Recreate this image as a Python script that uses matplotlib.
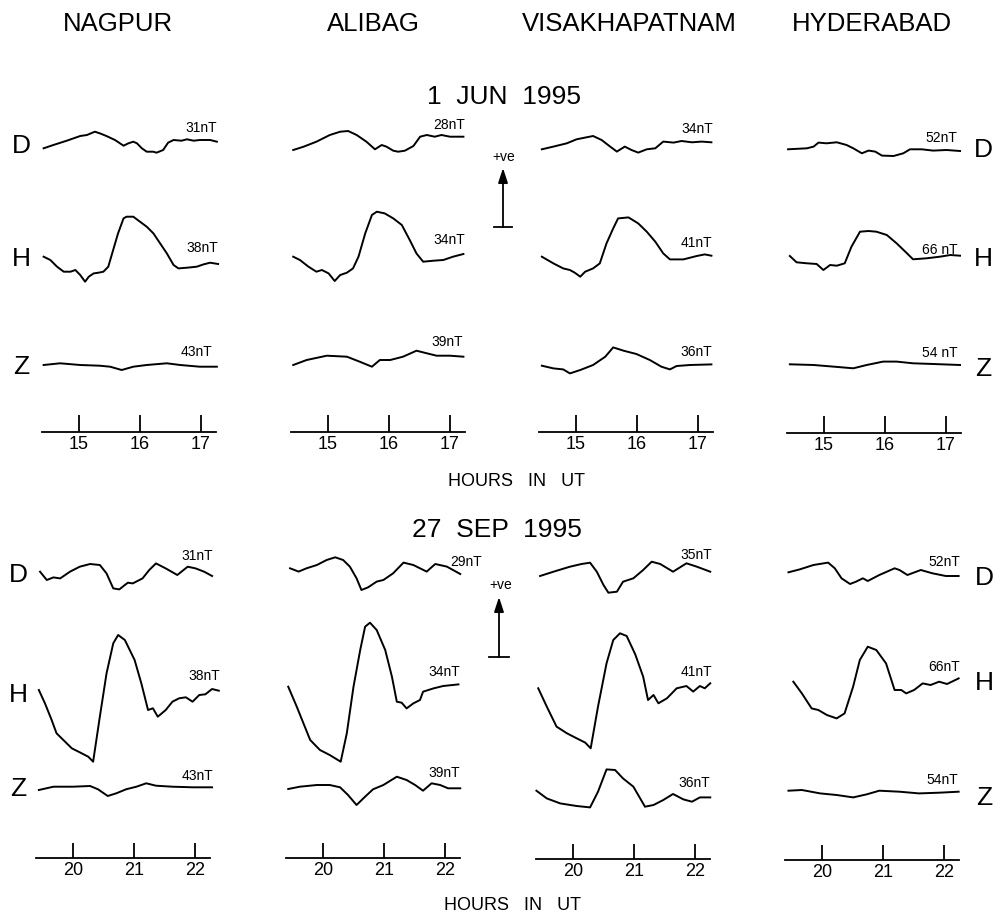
import matplotlib
matplotlib.use("Agg")
import matplotlib.pyplot as plt

plt.rcParams['font.family'] = ['Liberation Sans', 'DejaVu Sans']

# ---------------- DATA (time in hours UT, deflection in plot units) ----------------
STATIONS = ["NAGPUR", "ALIBAG", "VISAKHAPATNAM", "HYDERABAD"]
COMPONENTS = ["D", "H", "Z"]
EVENTS = ["1  JUN  1995", "27  SEP  1995"]
JUN_TICKS = [15, 16, 17]
SEP_TICKS = [20, 21, 22]

JUN_SCALES = {"NAGPUR": ["31nT", "38nT", "43nT"], "ALIBAG": ["28nT", "34nT", "39nT"],
              "VISAKHAPATNAM": ["34nT", "41nT", "36nT"], "HYDERABAD": ["52nT", "66 nT", "54 nT"]}
SEP_SCALES = {"NAGPUR": ["31nT", "38nT", "43nT"], "ALIBAG": ["29nT", "34nT", "39nT"],
              "VISAKHAPATNAM": ["35nT", "41nT", "36nT"], "HYDERABAD": ["52nT", "66nT", "54nT"]}

# --- 1 JUN 1995 ---
jun_nag_D_t = [14.42,14.58,14.80,15.02,15.13,15.26,15.34,15.45,15.59,15.73,15.81,15.89,15.95,16.03,16.11,16.22,16.27,16.38,16.46,16.55,16.68,16.77,16.88,16.98,17.15,17.26]
jun_nag_D_v = [-0.3,3,7.3,12,13,16.3,14.7,12,8,2.3,4.7,6.3,4.7,-0.3,-3.7,-3.7,-4.7,-2,5.3,8,7.3,8.7,7.3,8,8,6.3]
jun_nag_H_t = [14.42,14.53,14.64,14.75,14.86,14.94,15.02,15.10,15.16,15.24,15.32,15.40,15.48,15.56,15.64,15.73,15.78,15.89,16.00,16.11,16.22,16.33,16.44,16.55,16.63,16.77,16.93,17.04,17.15,17.28]
jun_nag_H_v = [0,-3.3,-10,-15,-15,-13.3,-18.3,-25,-20,-16.7,-16,-15,-10,6.7,23.3,38.3,40,40,35,30,23.3,13.3,3.3,-8.3,-11.7,-11,-10,-7.7,-6,-7.3]
jun_nag_Z_t = [14.42,14.69,15.02,15.34,15.51,15.70,15.89,16.11,16.44,16.66,16.98,17.26]
jun_nag_Z_v = [0,1.7,0,-0.7,-1.7,-5,-1.7,0,1.7,0,-1.7,-1.7]

jun_ali_D_t = [14.43,14.60,14.81,15.03,15.20,15.33,15.47,15.63,15.77,15.88,15.96,16.07,16.15,16.26,16.40,16.51,16.62,16.75,16.86,17.00,17.22]
jun_ali_D_v = [0,3.3,8.3,15,18.3,19,15,8.3,0.7,5,3.3,-0.7,-1.7,-0.7,4,13.3,15,13.3,15,13.3,13.3]
jun_ali_H_t = [14.43,14.54,14.68,14.81,14.90,15.01,15.11,15.20,15.31,15.41,15.50,15.61,15.72,15.80,15.93,16.07,16.21,16.34,16.45,16.56,16.73,16.89,17.05,17.22]
jun_ali_H_v = [0,-3.3,-10,-15,-13.3,-16.7,-24.3,-18.3,-16,-11.7,0,23.3,41.7,45,43.3,38.3,31.7,16.7,3.3,-5,-4,-3.3,0,2.7]
jun_ali_Z_t = [14.43,14.65,14.98,15.31,15.52,15.72,15.85,16.02,16.23,16.45,16.62,16.78,17.00,17.22]
jun_ali_Z_v = [0,5,9.3,8.3,3.3,-1.7,5,5,8.3,14.3,11.7,9.3,9.3,8.3]

jun_vis_D_t = [14.44,14.63,14.85,15.01,15.28,15.42,15.56,15.67,15.80,15.91,16.02,16.16,16.30,16.43,16.60,16.73,16.90,17.06,17.22]
jun_vis_D_v = [0,2.7,6,10,13.3,9.3,2.7,-2.3,2.7,-0.7,-3.3,0,1,7.7,6.7,8.3,7,7.7,7]
jun_vis_H_t = [14.44,14.63,14.79,14.90,14.98,15.07,15.15,15.28,15.39,15.50,15.61,15.69,15.86,16.02,16.16,16.30,16.43,16.54,16.76,16.98,17.11,17.22]
jun_vis_H_v = [0,-6.7,-11.7,-13.3,-16,-20,-15,-11.7,-6.7,13.3,28.3,38.3,39.3,33.3,25,15,3.3,-2.7,-2.7,0.7,2.3,1]
jun_vis_Z_t = [14.44,14.63,14.79,14.90,15.07,15.28,15.48,15.61,15.78,15.99,16.21,16.40,16.54,16.65,16.87,17.22]
jun_vis_Z_v = [0,-2.7,-3.7,-7.7,-4.3,0.7,9,18.3,15,11.7,5.7,-1,-3.7,-0.3,0.7,1.3]

jun_hyd_D_t = [14.41,14.72,14.83,14.91,15.04,15.21,15.37,15.48,15.62,15.73,15.84,15.95,16.14,16.30,16.41,16.60,16.79,17.01,17.23]
jun_hyd_D_v = [0,1,2.7,6.7,6,7,4.3,1,-4,-1.3,-2.3,-6.3,-6.7,-4,0,0,-1.3,-0.7,-1.7]
jun_hyd_H_t = [14.44,14.55,14.72,14.88,14.99,15.10,15.21,15.34,15.45,15.59,15.73,15.86,16.03,16.19,16.36,16.46,16.68,16.90,17.07,17.23]
jun_hyd_H_v = [0,-6.3,-7.3,-8,-14,-9,-9.7,-7.3,9.3,24.3,25,24.3,21,12.7,2.7,-3.3,-2.3,-0.7,1,0.3]
jun_hyd_Z_t = [14.44,14.83,15.15,15.48,15.70,15.97,16.19,16.46,16.79,17.23]
jun_hyd_Z_v = [0,-0.7,-2.3,-4,-0.7,2.7,2.7,1,0.3,-0.7]

# --- 27 SEP 1995 ---
sep_nag_D_t = [19.46,19.57,19.68,19.79,19.95,20.11,20.28,20.44,20.55,20.66,20.76,20.85,20.90,20.98,21.14,21.25,21.36,21.52,21.71,21.88,22.01,22.15,22.28]
sep_nag_D_v = [0,-8.3,-5.7,-6.7,0,5,7.7,6.7,-1.7,-16.7,-17.7,-13.3,-11,-11.7,-6.7,1.7,8.3,3.3,-3.3,5,3.3,0,-4.3]
sep_nag_H_t = [19.44,19.54,19.65,19.73,19.87,19.98,20.11,20.25,20.33,20.44,20.55,20.66,20.74,20.85,21.01,21.12,21.23,21.31,21.39,21.52,21.63,21.74,21.85,21.96,22.07,22.17,22.28,22.39]
sep_nag_H_v = [0,-13.3,-30,-43.3,-51.7,-58.3,-62.3,-66.7,-71.7,-26.7,16.7,46.7,55,50,30,6.7,-20,-18.3,-26.7,-20,-11.7,-8.3,-7.3,-11.7,-5,-4.3,1,-0.7]
sep_nag_Z_t = [19.44,19.68,20.00,20.28,20.41,20.57,20.71,20.87,21.04,21.20,21.36,21.63,21.96,22.28]
sep_nag_Z_v = [0,3.3,3.3,4,0.7,-6,-3.3,0.7,3.3,6.7,4.3,3.3,2.7,2.7]

sep_ali_D_t = [19.46,19.60,19.73,19.90,20.06,20.20,20.33,20.44,20.55,20.63,20.74,20.88,20.99,21.15,21.32,21.48,21.70,21.84,22.03,22.25]
sep_ali_D_v = [0,-3.3,0,3.3,8.3,11,8.3,1.7,-10,-21.7,-19,-13.3,-11.7,-5,5.7,3.3,-3.3,4.3,1.7,-5.7]
sep_ali_H_t = [19.43,19.57,19.68,19.79,19.95,20.11,20.29,20.39,20.50,20.61,20.69,20.77,20.88,21.02,21.13,21.21,21.29,21.37,21.48,21.59,21.64,21.81,21.97,22.22]
sep_ali_H_v = [0,-20,-36.7,-53.3,-63.3,-68.3,-75,-46.7,0,36.7,60,64,56.7,36.7,10,-15,-16,-21.7,-16.7,-13.3,-5,-1.7,0.7,2.3]
sep_ali_Z_t = [19.43,19.62,19.90,20.11,20.28,20.41,20.55,20.69,20.82,20.99,21.21,21.37,21.51,21.64,21.78,21.92,22.05,22.25]
sep_ali_Z_v = [0,2.3,4,4,1.7,-6,-16,-7.7,-0.3,4,12.3,9,4,-1.7,5.7,4,0.7,0.7]

sep_vis_D_t = [19.46,19.68,19.95,20.14,20.28,20.39,20.50,20.58,20.72,20.82,20.99,21.15,21.29,21.43,21.64,21.86,22.03,22.25]
sep_vis_D_v = [0,4.3,9.3,12,13.3,4.3,-9,-16.7,-15.7,-5.7,-2.3,6,14.3,12,4.3,12.7,9.3,4.3]
sep_vis_H_t = [19.43,19.57,19.73,19.90,20.06,20.20,20.29,20.41,20.55,20.66,20.77,20.88,21.02,21.15,21.23,21.32,21.40,21.54,21.70,21.86,21.97,22.08,22.16,22.25]
sep_vis_H_v = [0,-18.3,-38.3,-45,-50,-54.3,-60,-18.3,25,48.3,55,52.3,34,11.7,-11.7,-6.7,-15,-10,0,2.3,-3.3,2.3,0,5]
sep_vis_Z_t = [19.40,19.57,19.79,20.06,20.28,20.41,20.55,20.69,20.82,20.99,21.18,21.32,21.48,21.64,21.81,21.95,22.08,22.25]
sep_vis_Z_v = [0,-7.7,-12.7,-15.3,-16.7,-1,21.3,20.7,12.3,4,-16,-14.3,-9.3,-3.3,-8.7,-11,-6.7,-6.7]

sep_hyd_D_t = [19.45,19.64,19.86,20.10,20.21,20.32,20.46,20.56,20.67,20.75,20.94,21.19,21.27,21.40,21.62,21.81,22.03,22.24]
sep_hyd_D_v = [0,3,7.3,9.7,4,-6,-11.7,-9.3,-6,-8.7,-2.7,4,2.3,-2.7,2.3,-1,-3.7,-3.7]
sep_hyd_H_t = [19.53,19.67,19.83,19.94,20.08,20.24,20.37,20.51,20.62,20.75,20.89,21.05,21.19,21.30,21.38,21.51,21.65,21.78,21.92,22.05,22.24]
sep_hyd_H_v = [0,-11.7,-26.7,-28.3,-33.3,-36.7,-31.7,-5,21.7,35,31.7,18.3,-8.3,-8.3,-11.7,-8.3,-1.7,-3.3,0,-2.3,3.3]
sep_hyd_Z_t = [19.45,19.67,19.97,20.24,20.51,20.73,20.94,21.27,21.59,21.92,22.24]
sep_hyd_Z_v = [0,0.7,-2.7,-4.3,-6.7,-3.7,0,-1,-2.7,-2,-1]

TRACES = {
    0: {"NAGPUR": [(jun_nag_D_t, jun_nag_D_v), (jun_nag_H_t, jun_nag_H_v), (jun_nag_Z_t, jun_nag_Z_v)],
        "ALIBAG": [(jun_ali_D_t, jun_ali_D_v), (jun_ali_H_t, jun_ali_H_v), (jun_ali_Z_t, jun_ali_Z_v)],
        "VISAKHAPATNAM": [(jun_vis_D_t, jun_vis_D_v), (jun_vis_H_t, jun_vis_H_v), (jun_vis_Z_t, jun_vis_Z_v)],
        "HYDERABAD": [(jun_hyd_D_t, jun_hyd_D_v), (jun_hyd_H_t, jun_hyd_H_v), (jun_hyd_Z_t, jun_hyd_Z_v)]},
    1: {"NAGPUR": [(sep_nag_D_t, sep_nag_D_v), (sep_nag_H_t, sep_nag_H_v), (sep_nag_Z_t, sep_nag_Z_v)],
        "ALIBAG": [(sep_ali_D_t, sep_ali_D_v), (sep_ali_H_t, sep_ali_H_v), (sep_ali_Z_t, sep_ali_Z_v)],
        "VISAKHAPATNAM": [(sep_vis_D_t, sep_vis_D_v), (sep_vis_H_t, sep_vis_H_v), (sep_vis_Z_t, sep_vis_Z_v)],
        "HYDERABAD": [(sep_hyd_D_t, sep_hyd_D_v), (sep_hyd_H_t, sep_hyd_H_v), (sep_hyd_Z_t, sep_hyd_Z_v)]},
}

# ---------------- LAYOUT (pixel positions on a 1000 x 919 canvas) ----------------
W, H = 1000, 919
PX_PER_HOUR = 61.0
EV = [
    dict(ticks=JUN_TICKS, scales=JUN_SCALES, xlim=(14.39, 17.24),
         tick0_x=[79, 328, 576, 824], axis_y=[432, 432, 432, 433], top=105,
         base=[[284, 175.3, 67], [282, 175.3, 67], [282.7, 175.3, 66.3], [283.7, 177, 68.7]],
         lab_xy=[[(217, 128), (218, 248), (212, 352)], [(465, 125), (465, 240), (463, 342)],
                 [(713, 129), (712, 243), (712, 352)], [(957, 138), (958, 250), (958, 353)]],
         left_letters=[146, 259, 367], right_letters=[150, 259, 369], left_x=21, right_x=983,
         date_xy=(504, 97), hours_xy=(516, 482), tick_len=12,
         vebar=dict(x=503, y0=227, y1=168, half=9, txt=(504, 157))),
    dict(ticks=SEP_TICKS, scales=SEP_SCALES, xlim=(19.39, 22.25),
         tick0_x=[73, 323, 573, 822], axis_y=[858, 858, 859, 860], top=540,
         base=[[286.3, 168, 68], [289.7, 171.3, 69], [283, 170.7, 68.3], [287.7, 178.3, 69.3]],
         lab_xy=[[(213, 556), (220, 676), (213, 776)], [(482, 562), (460, 672), (460, 773)],
                 [(712, 555), (712, 672), (710, 783)], [(960, 562), (960, 667), (958, 780)]],
         left_letters=[575, 695, 789], right_letters=[578, 683, 798], left_x=18, right_x=984,
         date_xy=(497, 530), hours_xy=(512, 906), tick_len=11,
         vebar=dict(x=499, y0=657, y1=597, half=10, txt=(501, 585))),
]
HEADER_X = [118, 373, 629, 872]
HEADER_Y = 24

fig = plt.figure(figsize=(W / 100, H / 100), dpi=100)
fig.patch.set_facecolor("white")


def fx(x):
    return x / W


def fy(y):
    return 1 - y / H


for name, hx in zip(STATIONS, HEADER_X):
    fig.text(fx(hx), fy(HEADER_Y), name, ha="center", va="center", fontsize=18.5)

for e, ev in enumerate(EV):
    x0, x1 = ev["xlim"]
    for c, st in enumerate(STATIONS):
        ay = ev["axis_y"][c]
        left = ev["tick0_x"][c] - (ev["ticks"][0] - x0) * PX_PER_HOUR
        width = (x1 - x0) * PX_PER_HOUR
        height = ay - ev["top"]
        ax = fig.add_axes([fx(left), fy(ay), width / W, height / H])
        ax.set_xlim(x0, x1)
        ax.set_ylim(0, height)
        ax.patch.set_alpha(0)
        for s in ("left", "right", "top"):
            ax.spines[s].set_visible(False)
        ax.spines["bottom"].set_linewidth(1.3)
        ax.set_yticks([])
        ax.set_xticks(ev["ticks"])
        ax.set_xticklabels([str(t) for t in ev["ticks"]])
        ax.tick_params(axis="x", direction="in", length=ev["tick_len"], width=1.3,
                       pad=3, labelsize=13)
        for k, (t, v) in enumerate(TRACES[e][st]):
            b = ev["base"][c][k]
            ax.plot(t, [b + val for val in v], color="black", lw=1.4, clip_on=False,
                    solid_joinstyle="round")
        for k, lab in enumerate(ev["scales"][st]):
            lx, ly = ev["lab_xy"][c][k]
            fig.text(fx(lx), fy(ly), lab, ha="right", va="center", fontsize=10)

    for k, comp in enumerate(COMPONENTS):
        fig.text(fx(ev["left_x"]), fy(ev["left_letters"][k]), comp, ha="center",
                 va="center", fontsize=19)
        fig.text(fx(ev["right_x"]), fy(ev["right_letters"][k]), comp, ha="center",
                 va="center", fontsize=19)

    fig.text(fx(ev["date_xy"][0]), fy(ev["date_xy"][1]), EVENTS[e], ha="center",
             va="center", fontsize=19)
    fig.text(fx(ev["hours_xy"][0]), fy(ev["hours_xy"][1]), "HOURS   IN   UT",
             ha="center", va="center", fontsize=13)

    vb = ev["vebar"]
    fig.add_artist(plt.Line2D([fx(vb["x"] - vb["half"]), fx(vb["x"] + vb["half"])],
                              [fy(vb["y0"]), fy(vb["y0"])], color="black", lw=1.3,
                              transform=fig.transFigure))
    fig.add_artist(matplotlib.patches.FancyArrowPatch(
        (fx(vb["x"]), fy(vb["y0"])), (fx(vb["x"]), fy(vb["y1"])),
        transform=fig.transFigure, arrowstyle="-|>,head_length=0.55,head_width=0.18",
        mutation_scale=16, color="black", lw=1.3, shrinkA=0, shrinkB=0))
    fig.text(fx(vb["txt"][0]), fy(vb["txt"][1]), "+ve", ha="center", va="center",
             fontsize=10)

fig.savefig("out.png", dpi=100, facecolor="white")
